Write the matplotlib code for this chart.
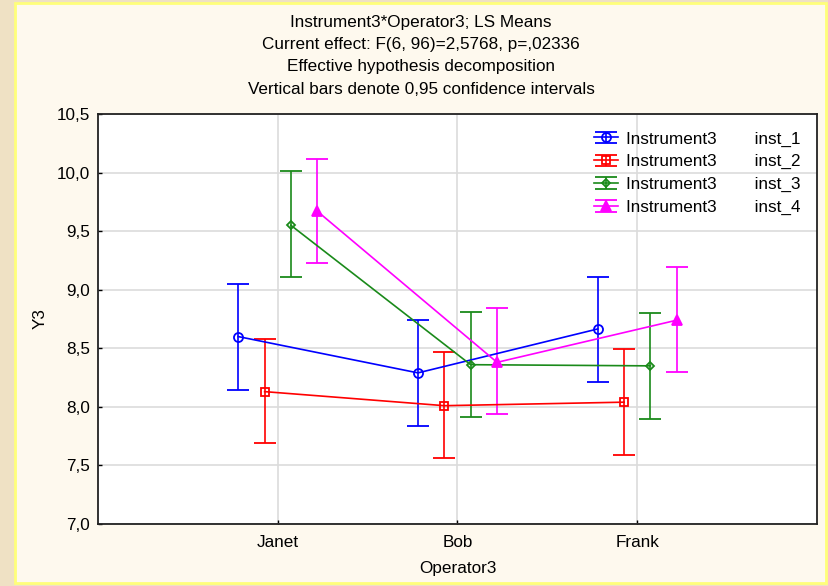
import matplotlib
matplotlib.use("Agg")
import matplotlib.pyplot as plt
from matplotlib.patches import Rectangle
from matplotlib.ticker import FuncFormatter
from matplotlib.legend_handler import HandlerErrorbar
from matplotlib.container import ErrorbarContainer
import numpy as np

plt.rcParams['font.family'] = ['Liberation Sans', 'DejaVu Sans']

categories = ["Janet", "Bob", "Frank"]
series_names = ["inst_1", "inst_2", "inst_3", "inst_4"]
factor_name = "Instrument3"

means = {
    "inst_1": [8.60, 8.29, 8.665],
    "inst_2": [8.13, 8.01, 8.04],
    "inst_3": [9.55, 8.36, 8.35],
    "inst_4": [9.67, 8.38, 8.74],
}
ci_low = {
    "inst_1": [8.14, 7.84, 8.21],
    "inst_2": [7.69, 7.56, 7.59],
    "inst_3": [9.11, 7.91, 7.90],
    "inst_4": [9.23, 7.94, 8.30],
}
ci_high = {
    "inst_1": [9.05, 8.74, 9.11],
    "inst_2": [8.58, 8.47, 8.49],
    "inst_3": [10.01, 8.81, 8.80],
    "inst_4": [10.12, 8.84, 9.19],
}

title_lines = [
    "Instrument3*Operator3; LS Means",
    "Current effect: F(6, 96)=2,5768, p=,02336",
    "Effective hypothesis decomposition",
    "Vertical bars denote 0,95 confidence intervals",
]

colors = ["#0000ff", "#ff0000", "#1a8a1a", "#ff00ff"]
markers = ["o", "s", "D", "^"]
mfaces = ["none", "none", "none", "#ff00ff"]
msizes = [6.5, 6, 4.5, 7]
offsets = [-0.22, -0.073, 0.073, 0.22]

FS = 12.3
W, H = 829, 586
fig = plt.figure(figsize=(W / 100, H / 100), dpi=100)
fig.patch.set_facecolor("#efe1c4")
panel = Rectangle((15 / W, 3 / H), (826 - 15) / W, (583 - 3) / H,
                  transform=fig.transFigure, facecolor="#fef9ee",
                  edgecolor="#ffff7a", linewidth=2, zorder=-5)
fig.add_artist(panel)

ax = fig.add_axes([98 / W, 1 - 524 / H, (817 - 98) / W, (524 - 114) / H])
ax.set_zorder(2)
ax.set_facecolor("white")
ax.set_xlim(0, 4)
ax.set_ylim(7.0, 10.5)

x = np.arange(1, len(categories) + 1)
handles = []
for i, s in enumerate(series_names):
    xs = x + offsets[i]
    m = np.array(means[s])
    lo = m - np.array(ci_low[s])
    hi = np.array(ci_high[s]) - m
    h = ax.errorbar(xs, m, yerr=[lo, hi], color=colors[i], marker=markers[i],
                    markersize=msizes[i], markerfacecolor=mfaces[i],
                    markeredgecolor=colors[i], markeredgewidth=1.3,
                    linewidth=1.2, elinewidth=1.2, capsize=8, capthick=1.2,
                    label=f"{factor_name}        {s}", zorder=3)
    handles.append(h)

ax.set_xticks(x)
ax.set_xticklabels(categories)
ax.set_yticks(np.arange(7.0, 10.51, 0.5))
ax.yaxis.set_major_formatter(FuncFormatter(lambda v, p: f"{v:.1f}".replace(".", ",")))
ax.grid(True, color="#dcdcdc", linewidth=1.2, zorder=0)
ax.set_axisbelow(True)
ax.tick_params(direction="in", length=3, width=1, labelsize=FS, color="black")
ax.tick_params(axis="x", pad=8)
ax.tick_params(axis="y", pad=6)
for sp in ax.spines.values():
    sp.set_linewidth(1.3)
    sp.set_color("#222222")

ax.set_xlabel("Operator3", fontsize=FS, labelpad=8)
ax.set_ylabel("Y3", fontsize=FS, labelpad=6)

for k, line in enumerate(title_lines):
    fig.text(421 / W, 1 - (22 + k * 22.5) / H, line, ha="center", va="center", fontsize=FS)

leg = ax.legend(handles=handles, loc="upper right", frameon=False, fontsize=FS,
                handlelength=1.4, handletextpad=0.5, labelspacing=0.45,
                bbox_to_anchor=(0.999, 0.995),
                handler_map={ErrorbarContainer: HandlerErrorbar(yerr_size=0.33, marker_pad=0.2)})

fig.savefig("out.png", dpi=100, facecolor=fig.get_facecolor())
